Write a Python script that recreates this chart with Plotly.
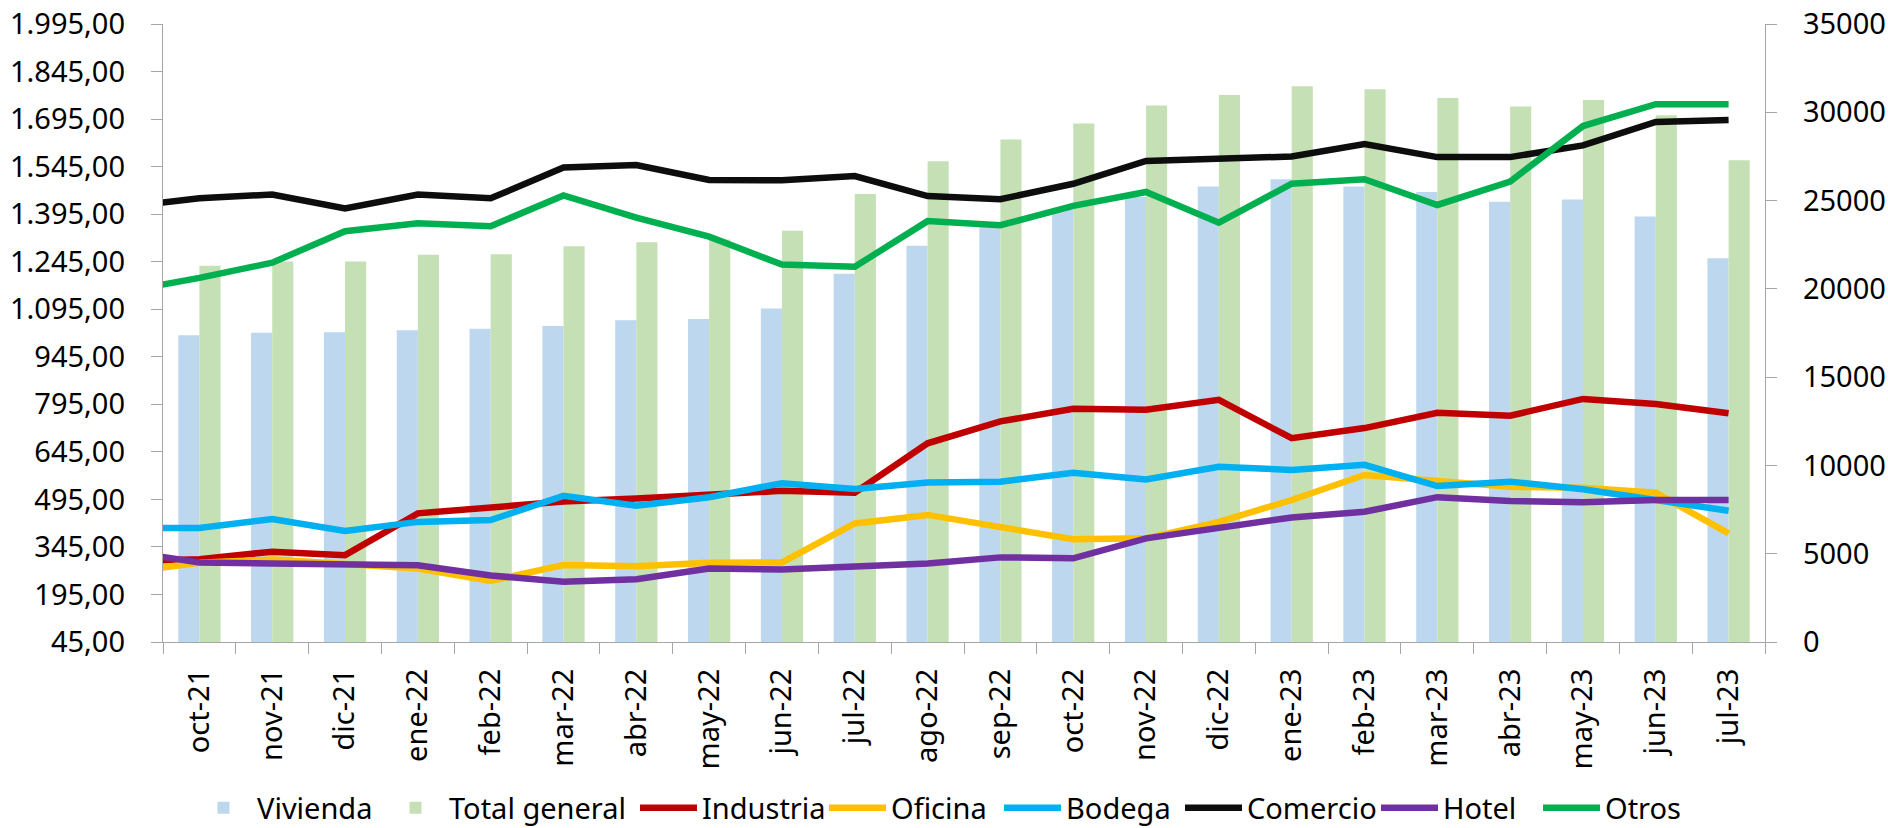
import plotly.graph_objects as go

# ---- data ----
months = ["oct-21", "nov-21", "dic-21", "ene-22", "feb-22", "mar-22", "abr-22", "may-22",
          "jun-22", "jul-22", "ago-22", "sep-22", "oct-22", "nov-22", "dic-22", "ene-23",
          "feb-23", "mar-23", "abr-23", "may-23", "jun-23", "jul-23"]
prev_month = "sep-21"  # partially visible line segment at the left edge

vivienda = [17366, 17519, 17536, 17649, 17746, 17899, 18217, 18296, 18881, 20850, 22439,
            23500, 24500, 25200, 25804, 26201, 25804, 25481, 24935, 25066, 24102, 21735]
total_general = [21304, 21548, 21548, 21928, 21963, 22416, 22643, 22800, 23290, 25367, 27223,
                 28454, 29362, 30384, 30986, 31479, 31309, 30815, 30327, 30702, 29833, 27280]

# line series (first value = sep-21)
industria = [300, 306, 330, 319, 451, 471, 488, 498, 512, 522, 516, 672,
             741, 781, 778, 809, 688, 720, 768, 759, 812, 796, 767]
oficina = [266, 295, 305, 291, 277, 238, 288, 284, 295, 296, 419, 446,
           409, 369, 372, 424, 493, 572, 553, 535, 532, 516, 388]
bodega = [405, 405, 433, 395, 424, 430, 506, 475, 502, 546, 528, 548,
          551, 579, 558, 598, 588, 604, 537, 551, 527, 493, 459]
comercio = [1418, 1445, 1457, 1413, 1457, 1445, 1542, 1550, 1503, 1502, 1515, 1452,
            1442, 1491, 1563, 1570, 1577, 1616, 1575, 1575, 1612, 1686, 1692]
hotel = [330, 296, 293, 288, 287, 255, 235, 243, 277, 274, 285, 293,
         312, 309, 372, 404, 438, 456, 502, 490, 486, 493, 493]
otros = [1152, 1194, 1242, 1341, 1366, 1357, 1454, 1384, 1324, 1236, 1229, 1373,
         1360, 1421, 1465, 1368, 1491, 1505, 1424, 1498, 1673, 1742, 1742]

left_ticks = list(range(45, 1996, 150))
right_ticks = list(range(0, 35001, 5000))

FONT = "Noto Sans"
AXIS_COLOR = "#a6a6a6"
W, H = 1888, 828
ITEMW = 57

# legend entry x positions (px from left, where the entry text should start)
legend_text_x = [259, 451, 704, 893, 1068, 1249, 1445, 1607]

line_x = [prev_month] + months
fig = go.Figure()

legend_ids = ["legend"] + [f"legend{i}" for i in range(2, 9)]

fig.add_trace(go.Bar(x=months, y=vivienda, name="Vivienda", legend=legend_ids[0],
                     marker=dict(color="#BDD7EE", line=dict(width=0)), yaxis="y"))
fig.add_trace(go.Bar(x=months, y=total_general, name="Total general", legend=legend_ids[1],
                     marker=dict(color="#C5E0B4", line=dict(width=0)), yaxis="y"))

lines = [
    ("Industria", industria, "#C00000"),
    ("Oficina", oficina, "#FFC000"),
    ("Bodega", bodega, "#00B0F0"),
    ("Comercio", comercio, "#0D0D0D"),
    ("Hotel", hotel, "#7030A0"),
    ("Otros", otros, "#00B050"),
]
for k, (name, vals, col) in enumerate(lines):
    fig.add_trace(go.Scatter(x=line_x, y=vals, name=name, mode="lines",
                             legend=legend_ids[k + 2],
                             line=dict(color=col, width=6.5), yaxis="y2"))

legend_layout = {}
for lid, tx in zip(legend_ids, legend_text_x):
    legend_layout[lid] = dict(
        orientation="h", xref="container", yref="container",
        x=(tx - 42 - (ITEMW - 30)) / W, xanchor="left", y=1 - 808 / H, yanchor="middle",
        font=dict(family=FONT, size=29, color="#000000"), itemwidth=ITEMW,
        bgcolor="rgba(0,0,0,0)", borderwidth=0)

fig.update_layout(
    template="none",
    width=W, height=H,
    margin=dict(l=163, r=123, t=24, b=186, autoexpand=False),
    paper_bgcolor="white", plot_bgcolor="white",
    font=dict(family=FONT, size=29, color="#000000"),
    separators=",.",
    barmode="group", bargap=0.42, bargroupgap=0,
    showlegend=True,
    xaxis=dict(type="category", categoryorder="array", categoryarray=line_x,
               range=[0.5, 22.5], tickson="boundaries", ticks="outside",
               ticklen=11, tickcolor=AXIS_COLOR, tickwidth=1.3,
               showline=True, linecolor=AXIS_COLOR, linewidth=1.3,
               showgrid=False, zeroline=False, tickangle=-90, automargin=False,
               tickfont=dict(family=FONT, size=29), ticklabelstandoff=14,
               anchor="y"),
    yaxis=dict(side="right", range=[0, 35000], tickmode="array", tickvals=right_ticks,
               tickformat="d", ticks="outside", ticklen=11, tickcolor=AXIS_COLOR,
               tickwidth=1.3, showline=True, linecolor=AXIS_COLOR, linewidth=1.3,
               showgrid=False, zeroline=False, automargin=False,
               tickfont=dict(family=FONT, size=29), ticklabelstandoff=20),
    yaxis2=dict(side="left", overlaying="y", range=[45, 1995], tickmode="array",
                tickvals=left_ticks, tickformat=",.2f", ticks="outside", ticklen=11,
                tickcolor=AXIS_COLOR, tickwidth=1.3, showline=True, linecolor=AXIS_COLOR,
                linewidth=1.3, showgrid=False, zeroline=False, automargin=False,
                tickfont=dict(family=FONT, size=29), ticklabelstandoff=20),
    **legend_layout,
)

fig.write_html("out.html", config={"displayModeBar": False},
               post_script="document.body.style.margin='0';document.body.style.overflow='hidden';")
